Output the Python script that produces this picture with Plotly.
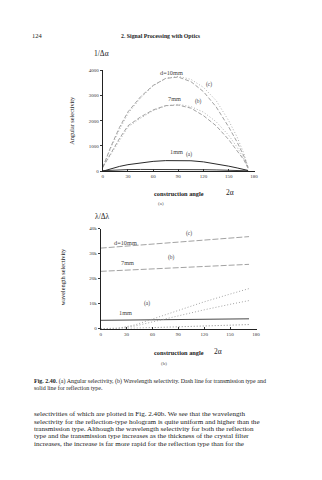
import plotly.graph_objects as go

# ---------------- data ----------------
# (a) angular selectivity 1/Δα vs construction angle 2α
angle_a = [0, 10, 20, 30, 45, 60, 75, 90, 105, 120, 135, 150, 160, 168, 173]
ang_10mm_dash = [150, 1000, 1740, 2350, 2950, 3400, 3680, 3730, 3550, 3150, 2550, 1750, 1150, 600, 150]
ang_10mm_dot = [150, 950, 1650, 2280, 2900, 3380, 3680, 3760, 3640, 3320, 2800, 2000, 1350, 700, 150]
ang_7mm_dash = [150, 750, 1300, 1800, 2150, 2430, 2600, 2620, 2500, 2200, 1800, 1250, 820, 450, 120]
ang_7mm_dot = [150, 700, 1250, 1750, 2100, 2400, 2590, 2650, 2560, 2340, 1960, 1420, 950, 500, 120]
ang_1mm_solid = [0, 100, 190, 260, 330, 390, 420, 430, 415, 370, 300, 200, 130, 70, 30]
ang_refl_low = [20, 40, 55, 65, 70, 72, 72, 70, 66, 60, 52, 42, 32, 22, 15]

# (b) wavelength selectivity λ/Δλ vs construction angle 2α
angle_r = [0, 60, 120, 172]
wl_10mm_refl = [32200, 33800, 35400, 36800]
wl_7mm_refl = [22900, 23900, 24900, 25700]
wl_1mm_refl = [3300, 3500, 3700, 3900]
angle_t = [0, 20, 40, 60, 90, 120, 150, 172]
wl_10mm_trans = [0, 100, 1500, 3800, 7300, 10700, 13800, 16000]
wl_7mm_trans = [0, 70, 1050, 2700, 5100, 7500, 9700, 11200]
wl_1mm_trans = [0, 10, 150, 380, 730, 1070, 1380, 1600]

x_ticks = [0, 30, 60, 90, 120, 150, 180]
ya_ticks = [0, 1000, 2000, 3000, 4000]
yb_ticks = [0, 10000, 20000, 30000, 40000]

W, H = 322, 480
SERIF = "Liberation Serif, Times New Roman, serif"

fig = go.Figure()

def line(x, y, ax, color, dash, width):
    fig.add_trace(go.Scatter(x=x, y=y, xaxis=ax[0], yaxis=ax[1], mode="lines",
                             line=dict(color=color, dash=dash, width=width),
                             showlegend=False, hoverinfo="skip"))

A = ("x", "y")
B = ("x2", "y2")
line(angle_a, ang_10mm_dash, A, "#8a8a8a", "4px,2px", 0.8)
line(angle_a, ang_10mm_dot, A, "#a8a8a8", "1px,2px", 0.9)
line(angle_a, ang_7mm_dash, A, "#8a8a8a", "4px,2px", 0.8)
line(angle_a, ang_7mm_dot, A, "#a8a8a8", "1px,2px", 0.9)
line(angle_a, ang_1mm_solid, A, "#2a2a2a", "solid", 1.0)
line(angle_a, ang_refl_low, A, "#2a2a2a", "solid", 0.9)

line(angle_r, wl_10mm_refl, B, "#8a8a8a", "6px,2px", 0.8)
line(angle_r, wl_7mm_refl, B, "#8a8a8a", "6px,2px", 0.8)
line(angle_r, wl_1mm_refl, B, "#333333", "solid", 0.9)
line(angle_t, wl_10mm_trans, B, "#9a9a9a", "1px,2px", 0.9)
line(angle_t, wl_7mm_trans, B, "#9a9a9a", "1px,2px", 0.9)
line(angle_t, wl_1mm_trans, B, "#777777", "1px,2px", 0.9)

def px_x(p):
    return p / W

def px_y(p):
    return 1 - p / H

axis_common = dict(showline=True, linecolor="#222", linewidth=1, showgrid=False,
                   zeroline=False, tickfont=dict(family=SERIF, size=5, color="#333"),
                   tickcolor="#333", ticklen=2, tickwidth=0.8)

fig.update_layout(
    width=W, height=H, margin=dict(l=0, r=0, t=0, b=0),
    paper_bgcolor="white", plot_bgcolor="white", showlegend=False,
    xaxis=dict(domain=[px_x(103), px_x(257)], range=[0, 181], anchor="y",
               tickvals=x_ticks, ticks="inside", **axis_common),
    yaxis=dict(domain=[px_y(171), px_y(69)], range=[0, 4000], anchor="x",
               tickvals=ya_ticks, ticks="outside", **axis_common),
    xaxis2=dict(domain=[px_x(101), px_x(259)], range=[0, 181], anchor="y2",
                tickvals=x_ticks, ticks="inside", **axis_common),
    yaxis2=dict(domain=[px_y(330), px_y(229)], range=[0, 40000], anchor="x2",
                tickvals=yb_ticks, ticks="outside", **axis_common),
)

def ann(text, x, y, size, anchor="center", angle=0, color="#222"):
    fig.add_annotation(text=text, x=px_x(x), y=px_y(y), xref="paper", yref="paper",
                       showarrow=False, xanchor=anchor, yanchor="middle", textangle=angle,
                       font=dict(family=SERIF, size=size, color=color))

# page header
ann("124", 37, 34, 6.5)
ann("<b>2. Signal Processing with Optics</b>", 162, 34, 5.8)

# chart (a) labels
ann("1/Δα", 102, 52, 7.5)
ann("Angular selectivity", 72, 120, 6.3, angle=-90)
ann("d=10mm", 173, 71, 6.3, color="#444")
ann("(c)", 211, 83, 5.5, color="#444")
ann("7mm", 176, 97.5, 6.3, color="#444")
ann("(b)", 200, 101, 5.5, color="#444")
ann("1mm", 178, 151, 6.3, color="#444")
ann("(a)", 190, 154, 5.5, color="#444")
ann("<b>construction angle</b>", 153, 194, 6.3, anchor="left")
ann("2α", 226, 193, 7.5, anchor="left")
ann("(a)", 162, 204, 5, color="#555")

# chart (b) labels
ann("λ/Δλ", 103, 217, 7.5)
ann("wavelength selectivity", 62, 278, 6.3, angle=-90, color="#111")
ann("d=10mm", 126, 243, 6.3, color="#444")
ann("(c)", 190, 234, 5.5, color="#444")
ann("7mm", 128, 263, 6.3, color="#444")
ann("(b)", 173, 258, 5.5, color="#444")
ann("(a)", 148, 305, 5.5, color="#444")
ann("1mm", 126, 314, 6.3, color="#444")
ann("<b>construction angle</b>", 153, 354, 6.3, anchor="left")
ann("2α", 214, 353, 7.5, anchor="left")
ann("(b)", 165, 365, 5, color="#555")

# caption
ann("<b>Fig. 2.40.</b> (a) Angular selectivity, (b) Wavelength selectivity. Dash line for transmission type and",
    31, 383.5, 6.0, anchor="left")
ann("solid line for reflection type.", 31, 390, 6.0, anchor="left")

# body text
body = [
    "selectivities of which are plotted in Fig. 2.40b. We see that the wavelength",
    "selectivity for the reflection-type hologram is quite uniform and higher than the",
    "transmission type. Although the wavelength selectivity for both the reflection",
    "type and the transmission type increases as the thickness of the crystal filter",
    "increases, the increase is far more rapid for the reflection type than for the",
]
for i, t in enumerate(body):
    ann(t, 31, 416.5 + 7.5 * i, 7.1, anchor="left")

fig.write_html("out.html")
